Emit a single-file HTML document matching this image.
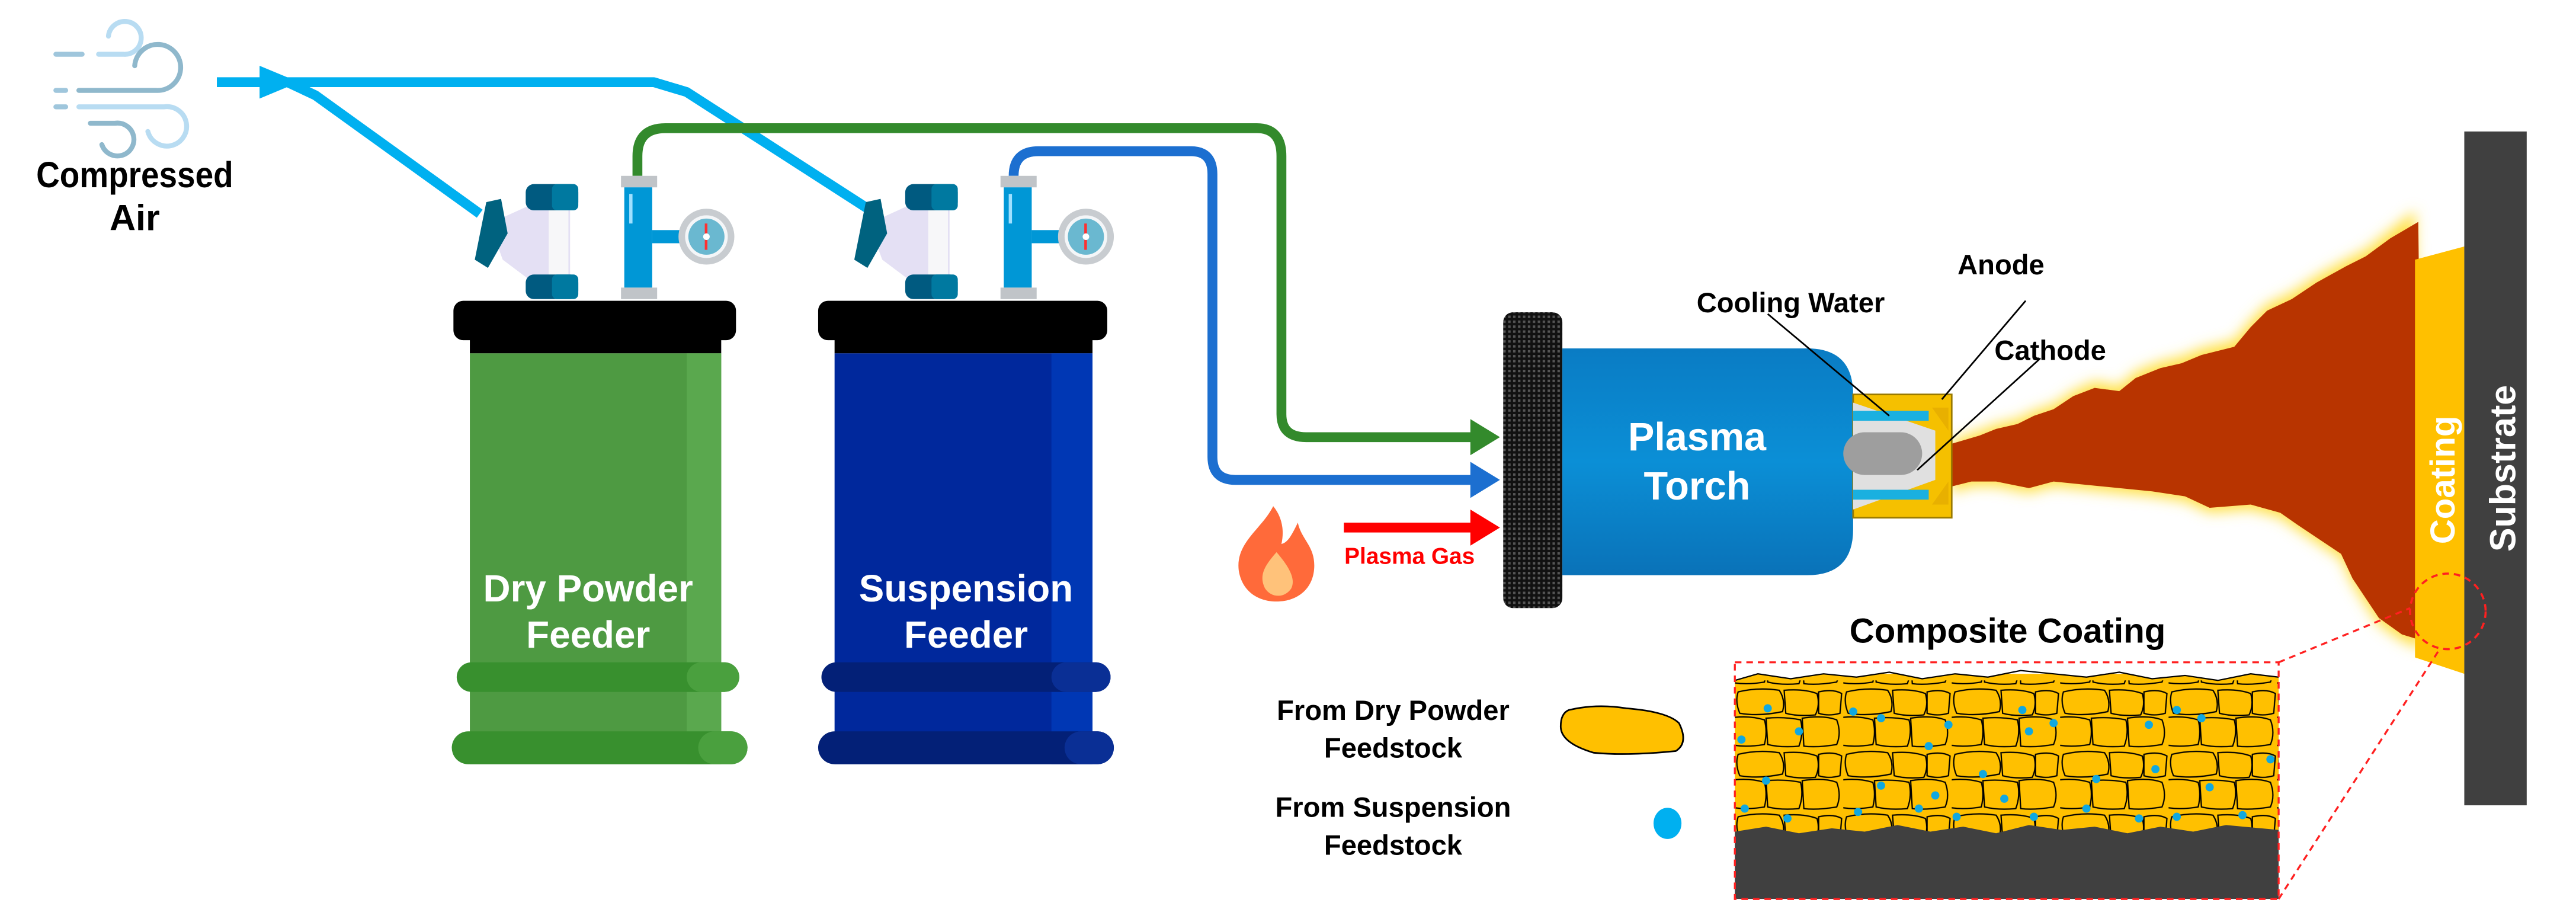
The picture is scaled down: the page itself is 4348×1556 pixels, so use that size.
<!DOCTYPE html>
<html><head><meta charset="utf-8"><style>
html,body{margin:0;padding:0;background:#fff;}
svg{display:block;}
.n{font-family:"Liberation Sans Narrow","Liberation Sans",sans-serif;font-weight:bold;}
.w{font-family:"Liberation Sans",sans-serif;font-weight:bold;}
</style></head><body>
<svg width="4348" height="1556" viewBox="0 0 1568 561" preserveAspectRatio="none" xmlns="http://www.w3.org/2000/svg">
<defs>
<pattern id="grain" width="66" height="38" patternUnits="userSpaceOnUse">
<rect width="66" height="38" fill="#ffc000"/>
<g fill="#ffc000" stroke="#000" stroke-width="0.8">
<path d="M2 3 Q14 0 27 2 Q31 8 29 15 Q15 18 3 16 Q0 9 2 3 Z"/>
<path d="M30 2 Q42 1 50 4 Q52 11 49 17 Q38 18 31 16 Z"/>
<path d="M51 3 Q60 1 65 4 L64 16 Q57 18 51 16 Z"/>
<path d="M-4 19 Q8 17 18 20 Q20 27 18 35 Q6 37 -3 35 Z"/>
<path d="M19 19 Q30 18 40 20 Q42 28 39 36 Q28 37 20 35 Z"/>
<path d="M41 19 Q54 17 62 20 Q65 28 62 35 Q50 37 42 36 Z"/>
</g>
</pattern>
<linearGradient id="tg" x1="0" y1="0" x2="0" y2="1"><stop offset="0" stop-color="#0a7cc4"/><stop offset="0.5" stop-color="#0b8fd6"/><stop offset="1" stop-color="#0a72b8"/></linearGradient>
<pattern id="knurl" width="3" height="3" patternUnits="userSpaceOnUse"><rect width="3" height="3" fill="#111"/><rect width="1.5" height="1.5" fill="#555"/></pattern>
<filter id="glow"><feGaussianBlur stdDeviation="4"/></filter>
</defs>

<!-- wind icon -->
<g fill="none" stroke-linecap="round" stroke-width="3">
<path d="M34 33 H50" stroke="#9fc6dc"/><path d="M60 33 H75 A10 10 0 1 0 66 22" stroke="#b8dcf2"/>
<path d="M34 55 H40" stroke="#9fc6dc"/><path d="M48 55 H95 A14 14 0 1 0 82 40" stroke="#8fb8cc"/>
<path d="M34 65 H40" stroke="#9fc6dc"/><path d="M48 65 H100 A12 12 0 1 1 90 80" stroke="#b8dcf2"/>
<path d="M55 75 H70 A10 10 0 1 1 62 88" stroke="#8fb8cc"/>
</g>
<text class="n" x="82" y="114" font-size="22" text-anchor="middle" transform="translate(82 0) scale(0.9 1) translate(-82 0)">Compressed</text>
<text class="n" x="82" y="140" font-size="22" text-anchor="middle">Air</text>

<!-- air lines -->
<g fill="none" stroke="#00b0f0" stroke-width="6" stroke-linejoin="round">
<path d="M132 50 H398 L418 56 L533 130"/>
<path d="M175 50 L192 58 L292 130"/>
</g>
<path d="M158 40 L182 50 L158 60 Z" fill="#00b0f0"/>

<!-- green line -->
<path d="M388 107 V95 Q388 78 405 78 H765 Q780 78 780 95 V252 Q780 266 795 266 H898" fill="none" stroke="#338a2c" stroke-width="6"/>
<path d="M895 255 L913 266 L895 277 Z" fill="#338a2c"/>
<!-- blue line -->
<path d="M617 107 Q617 92 632 92 H725 Q738 92 738 106 V278 Q738 292 752 292 H898" fill="none" stroke="#1c6fd0" stroke-width="6"/>
<path d="M895 281 L913 292 L895 303 Z" fill="#1c6fd0"/>
<!-- red arrow -->
<path d="M818 321 H898" stroke="#ff0000" stroke-width="6"/>
<path d="M895 310 L913 321 L895 332 Z" fill="#ff0000"/>
<text class="n" x="858" y="343" font-size="14" fill="#ff0000" text-anchor="middle">Plasma Gas</text>
<!-- flame icon -->
<path d="M775 308 C768 322 752 330 754 347 C756 360 766 366 777 366 C790 366 800 358 800 344 C800 332 792 328 790 318 C786 326 784 330 780 331 C782 322 780 314 775 308 Z" fill="#ff6a3a"/>
<path d="M777 336 C770 344 766 350 770 358 C774 364 782 364 786 358 C789 352 784 344 777 336 Z" fill="#ffc27a"/>

<!-- filters & gauges -->
<g id="fg">
<path d="M298 136 L320 126 H347 V170 H322 L306 158 Z" fill="#e4e0f4"/>
<rect x="334" y="126" width="12" height="44" fill="#f7f7f9"/>
<rect x="320" y="112" width="32" height="16" rx="5" fill="#005a80"/>
<rect x="336" y="112" width="16" height="16" rx="3" fill="#0079a0"/>
<path d="M296 123 L305 121 L309 142 L297 163 L289 158 Z" fill="#00627f"/>
<rect x="320" y="167" width="32" height="15" rx="5" fill="#005a80"/>
<rect x="336" y="167" width="16" height="15" rx="3" fill="#0079a0"/>
<rect x="378" y="107" width="22" height="7" fill="#c0c4c8"/>
<rect x="380" y="114" width="17" height="61" fill="#0097d6"/>
<rect x="383" y="118" width="2" height="18" fill="#9fe0ff"/>
<rect x="397" y="140" width="18" height="8" fill="#0097d6"/>
<rect x="378" y="175" width="22" height="7" fill="#c0c4c8"/>
<circle cx="430" cy="144" r="17" fill="#c8ccd0"/><circle cx="430" cy="144" r="13" fill="#f4f6f8"/><circle cx="430" cy="144" r="11" fill="#6ab8d0"/>
<rect x="429" y="136" width="1.6" height="16" fill="#ff3030"/><circle cx="430" cy="144" r="2" fill="#fff"/>
</g>
<use href="#fg" x="231" y="0"/>

<!-- feeder 1 -->
<rect x="276" y="183" width="172" height="24" rx="6" fill="#000"/>
<rect x="286" y="200" width="153" height="15" fill="#000"/>
<rect x="286" y="215" width="153" height="250" fill="#4e9a42"/>
<rect x="418" y="215" width="21" height="250" fill="#5aa84e"/>
<rect x="278" y="403" width="172" height="18" rx="9" fill="#38902e"/>
<rect x="418" y="403" width="32" height="18" rx="9" fill="#4aa03e"/>
<rect x="275" y="445" width="180" height="20" rx="10" fill="#38902e"/>
<rect x="425" y="445" width="30" height="20" rx="10" fill="#4aa03e"/>
<text class="n" x="358" y="366" font-size="23" fill="#fff" text-anchor="middle">Dry Powder</text>
<text class="n" x="358" y="394" font-size="23" fill="#fff" text-anchor="middle">Feeder</text>

<!-- feeder 2 -->
<rect x="498" y="183" width="176" height="24" rx="6" fill="#000"/>
<rect x="508" y="200" width="157" height="15" fill="#000"/>
<rect x="508" y="215" width="157" height="250" fill="#00289c"/>
<rect x="640" y="215" width="25" height="250" fill="#0037b4"/>
<rect x="500" y="403" width="176" height="18" rx="9" fill="#032077"/>
<rect x="640" y="403" width="36" height="18" rx="9" fill="#0a2f95"/>
<rect x="498" y="445" width="180" height="20" rx="10" fill="#032077"/>
<rect x="648" y="445" width="30" height="20" rx="10" fill="#0a2f95"/>
<text class="n" x="588" y="366" font-size="23" fill="#fff" text-anchor="middle">Suspension</text>
<text class="n" x="588" y="394" font-size="23" fill="#fff" text-anchor="middle">Feeder</text>

<!-- flame -->
<path d="M1188 268 L1205 262 L1215 258 L1228 255 L1238 250 L1250 246 L1262 238 L1275 232 L1290 235 L1300 226 L1315 220 L1328 217 L1340 212 L1360 207 L1370 195 L1380 185 L1395 178 L1410 168 L1428 158 L1440 152 L1455 140 L1470 128 L1475 395 L1462 390 L1448 380 L1440 368 L1432 355 L1425 340 L1410 330 L1398 322 L1388 315 L1370 310 L1345 312 L1330 305 L1310 302 L1290 300 L1270 298 L1250 296 L1235 300 L1215 296 L1200 296 L1188 300 Z" fill="#ffe14a" filter="url(#glow)"/>
<path d="M1188 270 L1205 265 L1215 261 L1228 258 L1238 253 L1250 249 L1262 241 L1275 236 L1290 238 L1300 230 L1315 224 L1328 221 L1340 216 L1360 211 L1370 199 L1380 189 L1395 182 L1410 172 L1428 162 L1440 156 L1455 145 L1472 135 L1475 390 L1462 386 L1448 376 L1440 364 L1432 352 L1425 337 L1410 327 L1398 319 L1388 312 L1370 307 L1345 309 L1330 302 L1310 299 L1290 297 L1270 295 L1250 293 L1235 297 L1215 293 L1200 293 L1188 296 Z" fill="#b83400"/>

<!-- coating & substrate -->
<path d="M1470 158 L1500 150 V410 L1470 400 Z" fill="#ffc000"/>
<rect x="1500" y="80" width="38" height="410" fill="#404040"/>
<text class="w" transform="translate(1494 292) rotate(-90)" font-size="21" fill="#fff" text-anchor="middle">Coating</text>
<text class="w" transform="translate(1531 285) rotate(-90)" font-size="22" fill="#fff" text-anchor="middle">Substrate</text>

<!-- torch -->
<rect x="915" y="190" width="36" height="180" rx="6" fill="url(#knurl)"/>
<path d="M951 212 H1100 Q1128 212 1128 240 V322 Q1128 350 1100 350 H951 Z" fill="url(#tg)"/>
<text class="n" x="1033" y="274" font-size="24" fill="#fff" text-anchor="middle">Plasma</text>
<text class="n" x="1033" y="304" font-size="24" fill="#fff" text-anchor="middle">Torch</text>
<rect x="1128" y="240" width="60" height="75" fill="#f5c000" stroke="#9a7a00" stroke-width="1"/>
<path d="M1128 245 L1178 262 V292 L1128 310 Z" fill="#e0e0e0"/>
<path d="M1176 248 H1186 V262 Z M1176 307 H1186 V293 Z" fill="#e8b000"/>
<rect x="1128" y="250" width="46" height="6" fill="#1ab0e0"/>
<rect x="1128" y="298" width="46" height="6" fill="#1ab0e0"/>
<rect x="1122" y="263" width="48" height="26" rx="13" fill="#9e9e9e"/>
<g stroke="#000" stroke-width="1" fill="none">
<path d="M1076 191 L1150 253"/><path d="M1233 183 L1182 243"/><path d="M1242 218 L1167 286"/>
</g>
<text class="n" x="1090" y="190" font-size="17" text-anchor="middle">Cooling Water</text>
<text class="n" x="1218" y="167" font-size="17" text-anchor="middle">Anode</text>
<text class="n" x="1248" y="219" font-size="17" text-anchor="middle">Cathode</text>

<!-- composite coating -->
<text class="n" x="1222" y="391" font-size="21" text-anchor="middle">Composite Coating</text>
<rect x="1056" y="410" width="331" height="102" fill="#ffc000"/>
<rect x="1056" y="414" width="331" height="96" fill="url(#grain)"/>
<path d="M1056 403 H1387 V412 L1370 410 L1350 414 L1330 411 L1310 413 L1290 409 L1270 412 L1250 410 L1230 408 L1210 412 L1190 410 L1170 413 L1150 409 L1130 412 L1110 410 L1090 413 L1070 410 L1056 414 Z" fill="#fff"/>
<path d="M1056 414 L1070 410 L1090 413 L1110 410 L1130 412 L1150 409 L1170 413 L1190 410 L1210 412 L1230 408 L1250 410 L1270 412 L1290 409 L1310 413 L1330 411 L1350 414 L1370 410 L1387 412" fill="none" stroke="#000" stroke-width="0.8"/>
<path d="M1056 506 L1075 503 L1095 507 L1115 504 L1135 506 L1155 502 L1175 506 L1195 503 L1215 507 L1235 502 L1255 505 L1275 503 L1295 507 L1315 503 L1335 506 L1355 502 L1387 505 V547 H1056 Z" fill="#404040"/>
<g fill="#10a8e0">
<circle cx="1076" cy="431" r="2.5"/><circle cx="1128" cy="433" r="2.5"/><circle cx="1145" cy="437" r="2.5"/><circle cx="1095" cy="445" r="2.5"/><circle cx="1060" cy="450" r="2.5"/><circle cx="1174" cy="454" r="2.5"/><circle cx="1186" cy="441" r="2.5"/><circle cx="1231" cy="432" r="2.5"/><circle cx="1235" cy="445" r="2.5"/><circle cx="1250" cy="440" r="2.5"/><circle cx="1308" cy="441" r="2.5"/><circle cx="1325" cy="432" r="2.5"/><circle cx="1340" cy="437" r="2.5"/><circle cx="1382" cy="462" r="2.5"/><circle cx="1075" cy="475" r="2.5"/><circle cx="1145" cy="478" r="2.5"/><circle cx="1178" cy="484" r="2.5"/><circle cx="1207" cy="471" r="2.5"/><circle cx="1220" cy="486" r="2.5"/><circle cx="1276" cy="474" r="2.5"/><circle cx="1312" cy="468" r="2.5"/><circle cx="1345" cy="479" r="2.5"/><circle cx="1062" cy="492" r="2.5"/><circle cx="1088" cy="498" r="2.5"/><circle cx="1131" cy="494" r="2.5"/><circle cx="1168" cy="492" r="2.5"/><circle cx="1191" cy="497" r="2.5"/><circle cx="1238" cy="497" r="2.5"/><circle cx="1270" cy="492" r="2.5"/><circle cx="1325" cy="497" r="2.5"/><circle cx="1365" cy="496" r="2.5"/><circle cx="1302" cy="498" r="2.5"/>
</g>
<rect x="1056" y="403" width="331" height="144" fill="none" stroke="#ff2020" stroke-width="1.2" stroke-dasharray="4 3"/>
<circle cx="1490" cy="372" r="23" fill="none" stroke="#ff2020" stroke-width="1.3" stroke-dasharray="4 3"/>
<path d="M1387 403 L1467 370 M1387 547 L1485 395" stroke="#ff2020" stroke-width="1.2" stroke-dasharray="4 3"/>

<!-- legend -->
<text class="n" x="848" y="438" font-size="17" text-anchor="middle">From Dry Powder</text>
<text class="n" x="848" y="461" font-size="17" text-anchor="middle">Feedstock</text>
<path d="M955 432 Q972 428 990 431 Q1015 433 1022 440 Q1028 452 1020 457 Q990 460 970 458 Q950 452 950 442 Q950 434 955 432 Z" fill="#ffc000" stroke="#000" stroke-width="1"/>
<text class="n" x="848" y="497" font-size="17" text-anchor="middle">From Suspension</text>
<text class="n" x="848" y="520" font-size="17" text-anchor="middle">Feedstock</text>
<ellipse cx="1015" cy="501" rx="8.5" ry="9.5" fill="#00b0f0"/>
</svg>
</body></html>
